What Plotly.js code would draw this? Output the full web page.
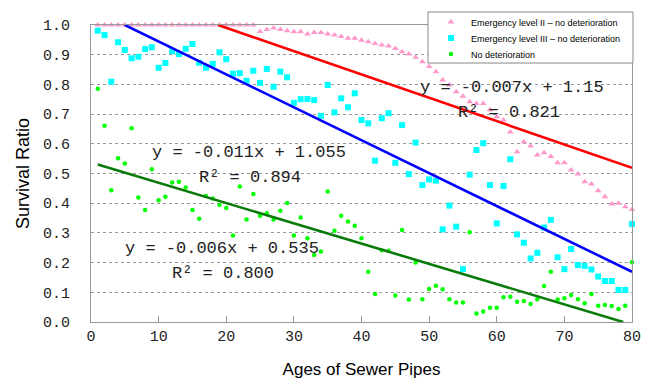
<!DOCTYPE html>
<html>
<head>
<meta charset="utf-8">
<script src="https://cdn.plot.ly/plotly-3.0.1.min.js"></script>
<style>html,body{margin:0;padding:0;background:#fff;}#chart{width:653px;height:381px;}</style>
</head>
<body>
<div id="chart"></div>
<script>
// Ages (years) shared by all three series
const ages = [];
for (let a = 1; a <= 80; a++) ages.push(a);

const level2 = [
  1.0,1.0,1.0,1.0,1.0,1.0,1.0,1.0,1.0,1.0,
  1.0,1.0,1.0,1.0,1.0,1.0,1.0,1.0,1.0,1.0,
  1.0,1.0,1.0,1.0,0.978,0.985,0.99,0.985,0.981,0.977,
  0.977,0.970,0.975,0.975,0.970,0.966,0.961,0.955,0.955,0.949,
  0.944,0.938,0.933,0.929,0.921,0.910,0.902,0.891,0.876,0.860,
  0.843,0.815,0.798,0.775,0.760,0.742,0.736,0.736,0.715,0.691,
  0.680,0.640,0.573,0.607,0.593,0.562,0.570,0.557,0.536,0.536,
  0.512,0.498,0.472,0.465,0.442,0.422,0.397,0.400,0.388,0.379
];

const level3 = [
  0.981,0.966,0.809,0.942,0.916,0.888,0.893,0.919,0.925,0.856,
  0.872,0.912,0.902,0.920,0.936,0.873,0.856,0.869,0.908,0.885,
  0.836,0.838,0.812,0.846,0.805,0.852,0.792,0.843,0.824,0.738,
  0.750,0.751,0.747,0.694,0.798,0.706,0.753,0.723,0.770,0.680,
  0.669,0.543,0.686,0.703,0.536,0.663,0.498,0.604,0.461,0.480,
  0.476,0.312,0.392,0.321,0.178,0.496,0.579,0.602,0.461,0.332,
  0.458,0.548,0.295,0.267,0.214,0.233,0.318,0.344,0.218,0.178,
  0.246,0.192,0.189,0.177,0.153,0.138,0.138,0.108,0.108,0.330
];

const noDet = [
  0.785,0.661,0.444,0.551,0.534,0.652,0.419,0.377,0.514,0.410,
  0.422,0.470,0.472,0.453,0.377,0.348,0.424,0.416,0.394,0.384,
  0.291,0.456,0.345,0.431,0.358,0.366,0.345,0.375,0.401,0.291,
  0.352,0.282,0.226,0.237,0.439,0.307,0.358,0.338,0.324,0.282,
  0.169,0.094,0.242,0.240,0.089,0.310,0.076,0.200,0.077,0.111,
  0.122,0.110,0.077,0.066,0.066,0.302,0.029,0.035,0.048,0.048,
  0.083,0.085,0.068,0.071,0.061,0.077,0.121,0.169,0.076,0.080,
  0.091,0.077,0.063,0.094,0.055,0.057,0.054,0.044,0.055,0.201
];

// Trend line end points
const redX = [18.8, 80],  redY = [1.0, 0.519];
const blueX = [5.0, 80],  blueY = [1.0, 0.169];
const greenX = [1.0, 78.7], greenY = [0.53, 0.0];

const seriesNames = [
  'Emergency level II \u2013 no deterioration',
  'Emergency level III \u2013 no deterioration',
  'No deterioration'
];

const eqTexts = [
  'y = -0.007x + 1.15', 'R\u00b2 = 0.821',
  'y = -0.011x + 1.055', 'R\u00b2 = 0.894',
  'y = -0.006x + 0.535', 'R\u00b2 = 0.800'
];
const eqX = [48.4, 53.9, 8.7, 15.7, 4.7, 11.7];
const eqY = [0.791, 0.707, 0.572, 0.485, 0.249, 0.165];

const mono = 'Liberation Mono, DejaVu Sans Mono, monospace';
const legFont = {family: 'Liberation Sans, Arial, sans-serif', size: 9, color: '#000'};

const traces = [
  {x: ages, y: level2, name: seriesNames[0], type: 'scatter', mode: 'markers', cliponaxis: false, legend: 'legend',
   marker: {symbol: 'triangle-up', size: 6, color: '#FF99CC'}},
  {x: ages, y: level3, name: seriesNames[1], type: 'scatter', mode: 'markers', cliponaxis: false, legend: 'legend2',
   marker: {symbol: 'square', size: 6, color: '#00FFFF'}},
  {x: ages, y: noDet, name: seriesNames[2], type: 'scatter', mode: 'markers', cliponaxis: false, legend: 'legend3',
   marker: {symbol: 'circle', size: 4.5, color: '#00FF00'}},
  {x: redX, y: redY, type: 'scatter', mode: 'lines', showlegend: false, hoverinfo: 'skip',
   line: {color: '#FF0000', width: 2.6}},
  {x: blueX, y: blueY, type: 'scatter', mode: 'lines', showlegend: false, hoverinfo: 'skip',
   line: {color: '#0000FF', width: 2.6}},
  {x: greenX, y: greenY, type: 'scatter', mode: 'lines', showlegend: false, hoverinfo: 'skip',
   line: {color: '#0A7A0A', width: 2.6}}
];

const annotations = eqTexts.map((t, i) => ({
  x: eqX[i], y: eqY[i], xref: 'x', yref: 'y', text: t, showarrow: false,
  xanchor: 'left', yanchor: 'middle',
  font: {family: mono, size: 17, color: '#222'}
}));

function leg(yc) {
  return {x: 0.6285, y: yc, xanchor: 'left', yanchor: 'middle',
          bgcolor: 'rgba(0,0,0,0)', borderwidth: 0, font: legFont, itemwidth: 30};
}

const layout = {
  width: 653, height: 381,
  margin: {l: 91, r: 21, t: 25, b: 59, autoexpand: false},
  paper_bgcolor: '#fff', plot_bgcolor: '#fff',
  showlegend: true,
  legend: leg(1.0101),
  legend2: leg(0.9562),
  legend3: leg(0.9024),
  shapes: [{
    type: 'rect', xref: 'paper', yref: 'paper', layer: 'above',
    x0: 0.6229, x1: 1.0018, y0: 0.872, y1: 1.0438,
    fillcolor: '#fff', line: {color: '#888', width: 1}
  }],
  xaxis: {
    range: [0, 80], dtick: 10, tick0: 0,
    showgrid: false, zeroline: false,
    showline: true, linecolor: '#999', linewidth: 1, mirror: true,
    ticks: 'inside', ticklen: 6, tickcolor: '#999',
    tickfont: {family: mono, size: 15, color: '#222'},
    title: {text: 'Ages of Sewer Pipes', font: {family: 'Liberation Sans, Arial, sans-serif', size: 17, color: '#000'}, standoff: 18}
  },
  yaxis: {
    range: [0, 1], dtick: 0.1, tick0: 0, tickformat: '.1f',
    showgrid: true, gridcolor: '#999', griddash: 'dot', gridwidth: 1,
    zeroline: false,
    showline: true, linecolor: '#999', linewidth: 1, mirror: true,
    ticks: 'outside', ticklen: 17, tickcolor: 'rgba(0,0,0,0)',
    tickfont: {family: mono, size: 15, color: '#222'},
    title: {text: 'Survival Ratio', font: {family: 'Liberation Sans, Arial, sans-serif', size: 18, color: '#000'}, standoff: 8}
  },
  annotations: annotations
};

Plotly.newPlot('chart', traces, layout, {displayModeBar: false, staticPlot: true});
</script>
</body>
</html>
